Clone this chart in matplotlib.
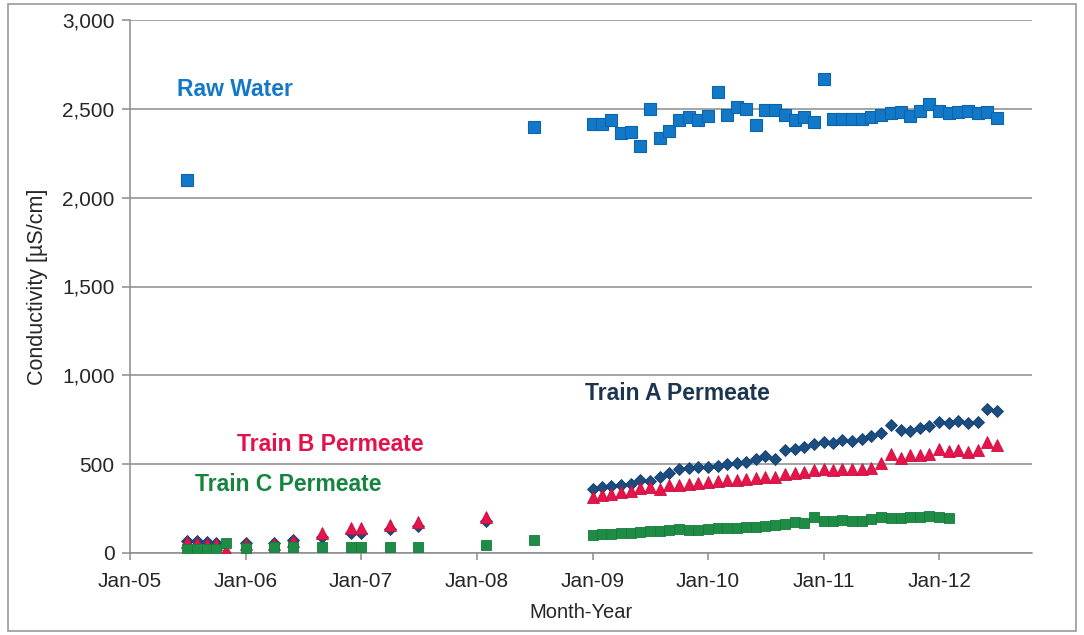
import matplotlib
matplotlib.use('Agg')
import matplotlib.pyplot as plt
import matplotlib.dates as mdates
import matplotlib.ticker as ticker
import numpy as np
import pandas as pd
from datetime import datetime

plt.rcParams['font.family'] = ['Liberation Sans', 'DejaVu Sans']
nan = np.nan

# sparse early samples (2005-2008)
early_months = ['2005-07', '2005-08', '2005-09', '2005-10', '2005-11', '2006-01', '2006-04',
                '2006-06', '2006-09', '2006-12', '2007-01', '2007-04', '2007-07', '2008-02', '2008-07']
raw_early = [2100, nan, nan, nan, nan, nan, nan, nan, nan, nan, nan, nan, nan, nan, 2400]
a_early = [70, 65, 62, 58, nan, 55, 55, 75, 92, 115, 115, 135, 150, 180, nan]
b_early = [60, 55, 50, 50, 15, 50, 50, 65, 110, 140, 140, 160, 175, 205, nan]
c_early = [25, 25, 25, 25, 55, 30, 35, 35, 35, 35, 35, 35, 35, 45, 72]

# monthly samples Jan-09 .. Jul-12
monthly_start = '2009-01'
raw_monthly = [2414, 2414, 2437, 2363, 2370, 2290, 2499, 2335, 2375, 2437,
               2453, 2437, 2459, 2594, 2465, 2510, 2499, 2408, 2493, 2493,
               2465, 2437, 2453, 2425, 2667, 2440, 2440, 2445, 2445, 2455,
               2465, 2475, 2480, 2460, 2490, 2525, 2485, 2475, 2480, 2485,
               2475, 2480, 2450]
a_monthly = [360, 372, 378, 385, 390, 410, 408, 425, 450, 470,
             480, 482, 485, 492, 500, 505, 515, 528, 545, 530,
             578, 588, 596, 612, 625, 618, 638, 630, 642, 658,
             678, 718, 692, 688, 705, 713, 735, 730, 745, 730,
             735, 812, 798]
b_monthly = [315, 325, 330, 345, 350, 365, 372, 360, 380, 385,
             390, 395, 400, 405, 410, 410, 415, 420, 425, 430,
             445, 450, 455, 465, 470, 465, 475, 472, 475, 478,
             505, 555, 535, 550, 550, 555, 585, 575, 578, 570,
             580, 625, 610]
c_monthly = [100, 105, 108, 112, 115, 120, 122, 125, 128, 135,
             130, 132, 135, 138, 140, 142, 145, 148, 150, 160,
             165, 175, 168, 200, 180, 178, 185, 182, 180, 190,
             200, 198, 195, 200, 205, 210, 200, 195, nan, nan,
             nan, nan, nan]

yticks = [0, 500, 1000, 1500, 2000, 2500, 3000]

dates = list(pd.to_datetime(early_months)) + list(pd.date_range(monthly_start, periods=len(raw_monthly), freq='MS'))
raw = raw_early + raw_monthly
train_a = a_early + a_monthly
train_b = b_early + b_monthly
train_c = c_early + c_monthly

fig = plt.figure(figsize=(10.84, 6.35), dpi=100)
ax = fig.add_axes([130 / 1084, 1 - 553 / 635, 902 / 1084, 533 / 635])

ax.plot(dates, raw, ls='none', marker='s', ms=8.5, color='#1279C8', mec='#0D64A8', mew=0.8, zorder=3)
ax.plot(dates, train_a, ls='none', marker='D', ms=6, color='#1B4D80', mec='#163F6A', mew=0.6, zorder=3)
ax.plot(dates, train_b, ls='none', marker='^', ms=8, color='#E5154B', mec='#C81040', mew=0.6, zorder=4)
ax.plot(dates, train_c, ls='none', marker='s', ms=7.5, color='#1F8C46', mec='#187A3C', mew=0.6, zorder=5)

ax.set_ylim(0, 3000)
ax.set_yticks(yticks)
ax.yaxis.set_major_formatter(ticker.StrMethodFormatter('{x:,.0f}'))
ax.set_xlim(datetime(2005, 1, 1), datetime(2012, 10, 20))
ax.xaxis.set_major_locator(mdates.YearLocator())
ax.xaxis.set_major_formatter(mdates.DateFormatter('%b-%y'))

ax.grid(axis='y', color='#8C8C8C', lw=1.1)
ax.set_axisbelow(True)
for side in ['top', 'right']:
    ax.spines[side].set_visible(False)
for side in ['left', 'bottom']:
    ax.spines[side].set_color('#8C8C8C')
    ax.spines[side].set_linewidth(1.1)
ax.tick_params(axis='both', colors='#8C8C8C', length=6, width=1.1, labelsize=15, labelcolor='#262626')
ax.tick_params(axis='y', pad=5)
ax.tick_params(axis='x', length=5, pad=9)

ax.set_ylabel('Conductivity [µS/cm]', fontsize=15.5, color='#262626', labelpad=10)
ax.set_xlabel('Month-Year', fontsize=14.5, color='#262626', labelpad=8)

ax.text(datetime(2005, 5, 28), 2611, 'Raw Water', color='#1478C8', fontsize=16.5, fontweight='bold', va='center')
ax.text(datetime(2008, 12, 9), 895, 'Train A Permeate', color='#1C3550', fontsize=16.5, fontweight='bold', va='center')
ax.text(datetime(2005, 12, 5), 613, 'Train B Permeate', color='#E3124B', fontsize=16.5, fontweight='bold', va='center')
ax.text(datetime(2005, 7, 25), 388, 'Train C Permeate', color='#15843F', fontsize=16.5, fontweight='bold', va='center')

fig.add_artist(plt.Rectangle((8 / 1084, 4 / 635), 1068 / 1084, 627 / 635, transform=fig.transFigure,
                             fill=False, edgecolor='#9A9A9A', lw=1.2))

plt.savefig('out.png', dpi=100)
